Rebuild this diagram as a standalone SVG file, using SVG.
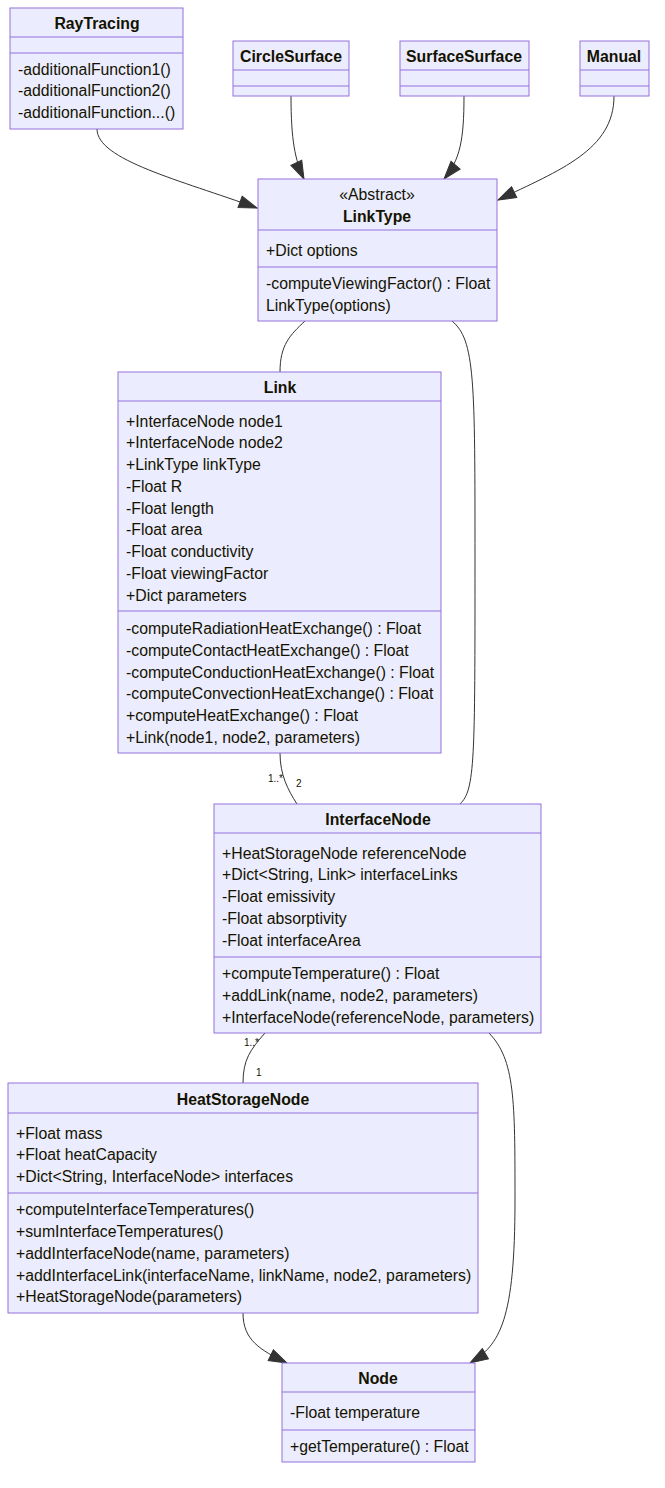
<svg xmlns="http://www.w3.org/2000/svg" width="665" height="1488" viewBox="0 0 665 1488">
<style>
.box{fill:#ECECFF;stroke:#9370DB;stroke-width:1}
.div{stroke:#9370DB;stroke-width:1}
text{font-family:"Liberation Sans",Arial,sans-serif;font-size:15.8px;fill:#131300}
.t{font-weight:bold;text-anchor:middle}
.c{text-anchor:middle}
.e{fill:none;stroke:#333;stroke-width:1}
.lbl{font-size:10px;fill:#131300}
</style>
<defs>
<marker id="arr" viewBox="0 0 20 14" refX="19" refY="7" markerWidth="20" markerHeight="14" markerUnits="userSpaceOnUse" orient="auto">
<path d="M1,1 L19,7 L1,13 Z" fill="#333" stroke="#333"/>
</marker>
</defs>
<rect width="665" height="1488" fill="#fff"/>

<g id="edges">
<path class="e" d="M97,129 C97,160 180,180 257,208" marker-end="url(#arr)"/>
<path class="e" d="M291,96 C291,140 295,160 304,179" marker-end="url(#arr)"/>
<path class="e" d="M464,96 C464,140 460,160 444,179" marker-end="url(#arr)"/>
<path class="e" d="M614,96 C614,150 560,170 498,200" marker-end="url(#arr)"/>
<path class="e" d="M305,321 C290,335 280,345 280,372"/>
<path class="e" d="M452,321 C475,340 475,380 475,560 C475,760 475,790 460,804"/>
<path class="e" d="M280,753 C280,775 288,790 297,804"/>
<path class="e" d="M265,1033 C250,1050 243,1060 243,1083"/>
<path class="e" d="M243,1313 C243,1340 260,1350 287,1363" marker-end="url(#arr)"/>
<path class="e" d="M489,1033 C515,1060 515,1100 515,1200 C515,1320 500,1345 470,1363" marker-end="url(#arr)"/>
<text class="lbl" x="268" y="782">1..*</text>
<text class="lbl" x="296" y="787">2</text>
<text class="lbl" x="244" y="1046">1..*</text>
<text class="lbl" x="256" y="1076">1</text>
</g>

<g id="RayTracing">
<rect class="box" x="10" y="8" width="173" height="121"/>
<line class="div" x1="10" y1="37" x2="183" y2="37"/>
<line class="div" x1="10" y1="53" x2="183" y2="53"/>
<text class="t" x="97" y="29">RayTracing</text>
<text x="18" y="75">-additionalFunction1()</text>
<text x="18" y="96">-additionalFunction2()</text>
<text x="18" y="118">-additionalFunction...()</text>
</g>

<g id="CircleSurface">
<rect class="box" x="233" y="41" width="116" height="55"/>
<line class="div" x1="233" y1="70" x2="349" y2="70"/>
<line class="div" x1="233" y1="86" x2="349" y2="86"/>
<text class="t" x="291" y="62">CircleSurface</text>
</g>

<g id="SurfaceSurface">
<rect class="box" x="400" y="41" width="129" height="55"/>
<line class="div" x1="400" y1="70" x2="529" y2="70"/>
<line class="div" x1="400" y1="86" x2="529" y2="86"/>
<text class="t" x="464" y="62">SurfaceSurface</text>
</g>

<g id="Manual">
<rect class="box" x="580" y="41" width="69" height="55"/>
<line class="div" x1="580" y1="70" x2="649" y2="70"/>
<line class="div" x1="580" y1="86" x2="649" y2="86"/>
<text class="t" x="614" y="62">Manual</text>
</g>

<g id="LinkType">
<rect class="box" x="258" y="179" width="239" height="142"/>
<line class="div" x1="258" y1="230" x2="497" y2="230"/>
<line class="div" x1="258" y1="267" x2="497" y2="267"/>
<text class="c" x="377" y="200">«Abstract»</text>
<text class="t" x="377" y="222">LinkType</text>
<text x="266" y="256">+Dict options</text>
<text x="266" y="289">-computeViewingFactor() : Float</text>
<text x="266" y="311">LinkType(options)</text>
</g>

<g id="Link">
<rect class="box" x="118" y="372" width="323" height="381"/>
<line class="div" x1="118" y1="401" x2="441" y2="401"/>
<line class="div" x1="118" y1="611" x2="441" y2="611"/>
<text class="t" x="280" y="393">Link</text>
<text x="126" y="427">+InterfaceNode node1</text>
<text x="126" y="448">+InterfaceNode node2</text>
<text x="126" y="470">+LinkType linkType</text>
<text x="126" y="492">-Float R</text>
<text x="126" y="514">-Float length</text>
<text x="126" y="535">-Float area</text>
<text x="126" y="557">-Float conductivity</text>
<text x="126" y="579">-Float viewingFactor</text>
<text x="126" y="601">+Dict parameters</text>
<text x="126" y="634">-computeRadiationHeatExchange() : Float</text>
<text x="126" y="656">-computeContactHeatExchange() : Float</text>
<text x="126" y="678">-computeConductionHeatExchange() : Float</text>
<text x="126" y="699">-computeConvectionHeatExchange() : Float</text>
<text x="126" y="721">+computeHeatExchange() : Float</text>
<text x="126" y="743">+Link(node1, node2, parameters)</text>
</g>

<g id="InterfaceNode">
<rect class="box" x="214" y="804" width="327" height="229"/>
<line class="div" x1="214" y1="833" x2="541" y2="833"/>
<line class="div" x1="214" y1="957" x2="541" y2="957"/>
<text class="t" x="378" y="825">InterfaceNode</text>
<text x="222" y="859">+HeatStorageNode referenceNode</text>
<text x="222" y="880">+Dict&lt;String, Link&gt; interfaceLinks</text>
<text x="222" y="902">-Float emissivity</text>
<text x="222" y="924">-Float absorptivity</text>
<text x="222" y="946">-Float interfaceArea</text>
<text x="222" y="979">+computeTemperature() : Float</text>
<text x="222" y="1001">+addLink(name, node2, parameters)</text>
<text x="222" y="1023">+InterfaceNode(referenceNode, parameters)</text>
</g>

<g id="HeatStorageNode">
<rect class="box" x="8" y="1083" width="470" height="230"/>
<line class="div" x1="8" y1="1113" x2="478" y2="1113"/>
<line class="div" x1="8" y1="1193" x2="478" y2="1193"/>
<text class="t" x="243" y="1105">HeatStorageNode</text>
<text x="16" y="1139">+Float mass</text>
<text x="16" y="1160">+Float heatCapacity</text>
<text x="16" y="1182">+Dict&lt;String, InterfaceNode&gt; interfaces</text>
<text x="16" y="1215">+computeInterfaceTemperatures()</text>
<text x="16" y="1237">+sumInterfaceTemperatures()</text>
<text x="16" y="1259">+addInterfaceNode(name, parameters)</text>
<text x="16" y="1281">+addInterfaceLink(interfaceName, linkName, node2, parameters)</text>
<text x="16" y="1302">+HeatStorageNode(parameters)</text>
</g>

<g id="Node">
<rect class="box" x="282" y="1363" width="193" height="99"/>
<line class="div" x1="282" y1="1392" x2="475" y2="1392"/>
<line class="div" x1="282" y1="1430" x2="475" y2="1430"/>
<text class="t" x="378" y="1384">Node</text>
<text x="290" y="1418">-Float temperature</text>
<text x="290" y="1452">+getTemperature() : Float</text>
</g>
</svg>
